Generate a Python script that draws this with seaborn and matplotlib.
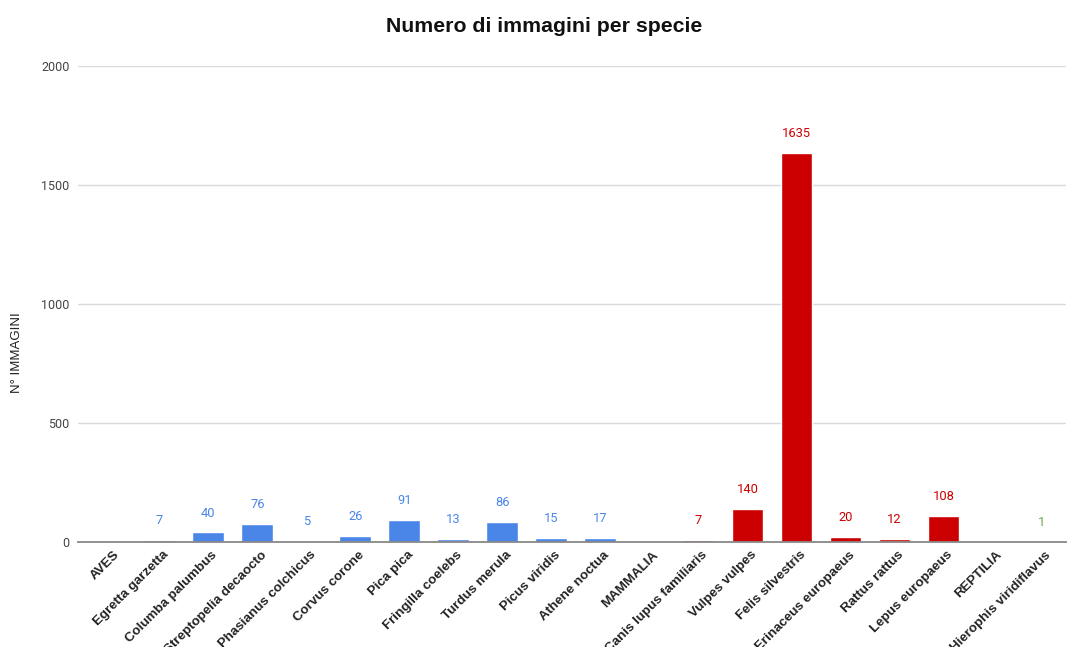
import matplotlib
matplotlib.use("Agg")
import matplotlib.pyplot as plt
import matplotlib.transforms as mtransforms
import seaborn as sns
import pandas as pd

categories = ["AVES", "Egretta garzetta", "Columba palumbus", "Streptopelia decaocto",
              "Phasianus colchicus", "Corvus corone", "Pica pica", "Fringilla coelebs",
              "Turdus merula", "Picus viridis", "Athene noctua", "MAMMALIA",
              "Canis lupus familiaris", "Vulpes vulpes", "Felis silvestris",
              "Erinaceus europaeus", "Rattus rattus", "Lepus europaeus", "REPTILIA",
              "Hierophis viridiflavus"]
values = [0, 7, 40, 76, 5, 26, 91, 13, 86, 15, 17, 0, 7, 140, 1635, 20, 12, 108, 0, 1]
groups = ["Aves"] * 11 + ["Mammalia"] * 7 + ["Reptilia"] * 2
header = ["AVES", "MAMMALIA", "REPTILIA"]
yticks = [0, 500, 1000, 1500, 2000]

colors = {"Aves": "#4a86e8", "Mammalia": "#cc0000", "Reptilia": "#6aa84f"}

df = pd.DataFrame({"cat": categories, "val": values, "grp": groups})

sns.set_theme(style="white")
plt.rcParams['font.family'] = ['Roboto', 'DejaVu Sans']

fig = plt.figure(figsize=(10.67, 6.47), dpi=100)
ax = fig.add_axes([78/1067, 1-542/647, (1066-78)/1067, (542-66)/647])

sns.barplot(data=df, x="cat", y="val", hue="grp", palette=colors, dodge=False,
            width=0.65, ax=ax, legend=False, saturation=1)

ax.set_xlim(-0.66, 19.5)
ax.set_ylim(0, 2000)
ax.set_yticks(yticks)
ax.set_yticklabels([str(t) for t in yticks], fontsize=9, color="#444444")
ax.tick_params(axis="y", length=0, pad=6)
ax.tick_params(axis="x", length=0, pad=5)
ax.yaxis.grid(True, color="#d9d9d9", linewidth=1)
ax.set_axisbelow(True)
for s in ["top", "right", "left"]:
    ax.spines[s].set_visible(False)
ax.spines["bottom"].set_color("#888888")
ax.spines["bottom"].set_linewidth(1.3)
ax.spines["bottom"].set_zorder(5)

ax.set_xticks(range(len(categories)))
ax.set_xticklabels(categories, rotation=45, ha="right", rotation_mode="anchor",
                   fontsize=9.6, fontweight="bold", color="#222222",
                   family=["Liberation Sans", "DejaVu Sans"])
shift = mtransforms.ScaledTranslation(3/100, 0, fig.dpi_scale_trans)
for lbl in ax.get_xticklabels():
    lbl.set_transform(lbl.get_transform() + shift)
ax.set_xlabel("")
ax.set_ylabel("N° IMMAGINI", fontsize=9.5, color="#222222",
              family=["Liberation Sans", "DejaVu Sans"])
ax.yaxis.set_label_coords(-55/988, (542-353)/476)

for i, (c, v, g) in enumerate(zip(categories, values, groups)):
    if c in header:
        continue
    ax.annotate(str(v), (i, v), xytext=(0, 14), textcoords="offset points",
                ha="center", va="center", fontsize=9.3, color=colors[g])

fig.text(544/1067, 1-26/647, "Numero di immagini per specie", ha="center", va="center",
         fontsize=15.3, fontweight="bold", color="#111111",
         family=["Liberation Sans", "DejaVu Sans"])

fig.savefig("out.png", dpi=100, facecolor="white")
